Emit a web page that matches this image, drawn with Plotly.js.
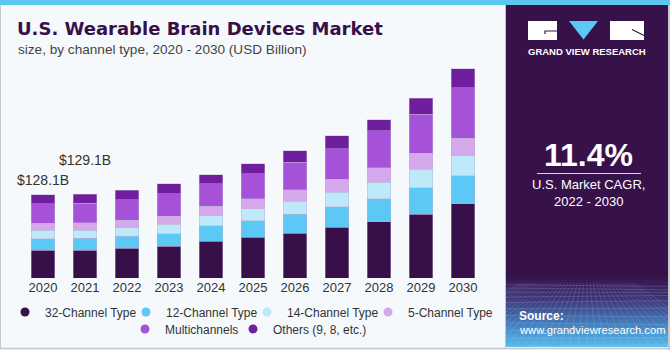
<!DOCTYPE html>
<html><head><meta charset="utf-8">
<script src="https://cdn.plot.ly/plotly-3.0.1.min.js"></script>
<style>html,body{margin:0;padding:0;background:#f5f9fc}#chart{width:670px;height:350px}</style>
</head><body><div id="chart"></div>
<script>
// ---- data (USD Billion) ----
const years = ['2020','2021','2022','2023','2024','2025','2026','2027','2028','2029','2030'];
const ch32   = [42.5, 42.8, 46.1, 48.6, 56.3, 62.4, 69.2, 77.8, 86.6, 98.4, 114.3];
const ch12   = [18.0, 18.1, 17.8, 19.5, 23.7, 25.7, 28.6, 31.8, 35.4, 40.4, 43.1];
const ch14   = [12.8, 12.9, 13.4, 14.3, 15.8, 18.5, 20.0, 22.0, 25.1, 28.1, 30.3];
const ch5    = [10.8, 10.9, 11.2, 12.3, 14.3, 15.4, 18.0, 20.0, 22.1, 25.2, 27.1];
const multi  = [30.3, 30.5, 31.8, 34.9, 34.5, 38.5, 42.0, 47.2, 57.4, 59.4, 78.0];
const others = [13.8, 13.9, 14.3, 15.4, 14.3, 15.4, 18.0, 20.0, 16.9, 25.2, 28.8];
const seriesNames = ['32-Channel Type','12-Channel Type','14-Channel Type','5-Channel Type','Multichannels','Others (9, 8, etc.)'];
const seriesValues = [ch32, ch12, ch14, ch5, multi, others];
const seriesColors = ['#37104a','#5bc8f5','#bde9fa','#d6a9ec','#a551d8','#6f1f9e'];
const labelYears = ['2020','2021'];
const totalLabels = ['$128.1B','$129.1B'];
const cagrValue = '11.4%';

// ---- geometry helpers ----
const W = 670, H = 350, ML = 22, MR = 186, MT = 64, MB = 72;
const PW = W - ML - MR, PH = H - MT - MB;
const px = x => (x - ML) / PW;
const py = y => (H - MB - y) / PH;
const FONT = 'Liberation Sans, Arial, sans-serif';

const traces = [];
seriesNames.forEach((n, i) => {
  traces.push({
    type: 'bar', name: n, x: years, y: seriesValues[i],
    marker: {color: seriesColors[i], line: {color: 'rgba(190,175,215,0.55)', width: 0.8}},
    showlegend: false, hoverinfo: 'x+y+name'
  });
});
// legend proxies (circle markers, no visible data)
const legendWidths = [76, 76, 76, 92, 63, 110];
seriesNames.forEach((n, i) => {
  traces.push({
    type: 'scatter', mode: 'markers', name: n, x: [years[0]], y: [null],
    marker: {color: seriesColors[i], size: 9},
    legend: i < 4 ? 'legend' : 'legend2', legendwidth: legendWidths[i], showlegend: true, hoverinfo: 'skip'
  });
});

const totals = years.map((_, k) => seriesValues.reduce((s, arr) => s + arr[k], 0));

// side panel background as svg image
function panelSvg() {
  const w = 162, h = 342;
  let s = `<svg xmlns='http://www.w3.org/2000/svg' width='${w}' height='${h}' viewBox='0 0 ${w} ${h}'>`;
  s += `<defs><linearGradient id='g' x1='0' y1='0' x2='0' y2='1'>` +
       `<stop offset='0' stop-color='#37114a'/><stop offset='0.79' stop-color='#37114a'/>` +
       `<stop offset='0.86' stop-color='#3d3577'/><stop offset='0.94' stop-color='#4486c4'/>` +
       `<stop offset='1' stop-color='#58bdea'/></linearGradient></defs>`;
  s += `<rect width='${w}' height='${h}' fill='url(#g)'/>`;
  const top = 278, bot = h;
  for (let i = 1; i <= 11; i++) {
    const t = Math.pow(i / 11, 1.5);
    const yy = top + (bot - top) * t;
    s += `<line x1='0' y1='${yy.toFixed(1)}' x2='${w}' y2='${(yy + 2*Math.sin(i)).toFixed(1)}' stroke='rgba(200,220,255,0.25)' stroke-width='0.7'/>`;
  }
  for (let j = -12; j <= 24; j++) {
    const xb = j * 9;
    const xt = w / 2 + (xb - w / 2) * 0.35;
    s += `<line x1='${xt.toFixed(1)}' y1='${top}' x2='${xb}' y2='${bot}' stroke='rgba(200,220,255,0.22)' stroke-width='0.7'/>`;
  }
  s += `</svg>`;
  return 'data:image/svg+xml;charset=utf-8,' + encodeURIComponent(s);
}

const shapes = [
  {type:'rect', xref:'paper', yref:'paper', x0:px(0), x1:px(670), y0:py(0), y1:py(5), fillcolor:'#5bc8f0', line:{width:0}, layer:'above'},
  {type:'line', xref:'paper', yref:'paper', x0:px(0.5), x1:px(0.5), y0:py(5), y1:py(349), line:{color:'#c8c8c8', width:1}},
  {type:'line', xref:'paper', yref:'paper', x0:px(0), x1:px(670), y0:py(348.5), y1:py(348.5), line:{color:'#c8c8c8', width:1.5}},
  {type:'line', xref:'paper', yref:'paper', x0:px(505.5), x1:px(505.5), y0:py(5), y1:py(349), line:{color:'#c0c0c8', width:1}},
  {type:'line', xref:'paper', yref:'paper', x0:px(669), x1:px(669), y0:py(5), y1:py(350), line:{color:'#c8c8c8', width:2}},
  {type:'line', xref:'paper', yref:'paper', x0:px(537), x1:px(641), y0:py(173.5), y1:py(173.5), line:{color:'#d8d0e0', width:1.2}, layer:'above'},
  {type:'rect', xref:'paper', yref:'paper', x0:px(528), x1:px(557), y0:py(21), y1:py(40), fillcolor:'#ffffff', line:{width:0}, layer:'above'},
  {type:'path', xref:'paper', yref:'paper', path:`M${px(545)},${py(34)} L${px(545)},${py(31)} L${px(557)},${py(31)}`, line:{color:'#37114a', width:1.2}, layer:'above'},
  {type:'path', xref:'paper', yref:'paper', path:`M${px(569)},${py(21)} L${px(598)},${py(21)} L${px(583.5)},${py(39.5)} Z`, fillcolor:'#5bc8f5', line:{width:0}, layer:'above'},
  {type:'rect', xref:'paper', yref:'paper', x0:px(610), x1:px(644), y0:py(21), y1:py(40), fillcolor:'#ffffff', line:{width:0}, layer:'above'},
  {type:'path', xref:'paper', yref:'paper', path:`M${px(632)},${py(29.5)} L${px(644)},${py(35.5)}`, line:{color:'#37114a', width:1.2}, layer:'above'}
];

const annotations = [
  {xref:'paper', yref:'paper', x:px(15.5), y:py(49), xanchor:'left', yanchor:'middle', showarrow:false,
   text:'size, by channel type, 2020 - 2030 (USD Billion)', font:{family:FONT, size:13.6, color:'#444'}},
  {xref:'paper', yref:'paper', x:px(587), y:py(51.5), xanchor:'center', yanchor:'middle', showarrow:false,
   text:'GRAND VIEW RESEARCH', font:{family:FONT, size:9.5, color:'#ffffff', weight:700}},
  {xref:'paper', yref:'paper', x:px(588), y:py(155), xanchor:'center', yanchor:'middle', showarrow:false,
   text:cagrValue, font:{family:FONT, size:32, color:'#ffffff', weight:700}},
  {xref:'paper', yref:'paper', x:px(588), y:py(184.5), xanchor:'center', yanchor:'middle', showarrow:false,
   text:'U.S. Market CAGR,', font:{family:FONT, size:13, color:'#ffffff'}},
  {xref:'paper', yref:'paper', x:px(588), y:py(201.5), xanchor:'center', yanchor:'middle', showarrow:false,
   text:'2022 - 2030', font:{family:FONT, size:13, color:'#ffffff'}},
  {xref:'paper', yref:'paper', x:px(517), y:py(316), xanchor:'left', yanchor:'middle', showarrow:false,
   text:'Source:', font:{family:FONT, size:12, color:'#ffffff', weight:700}},
  {xref:'paper', yref:'paper', x:px(517), y:py(330), xanchor:'left', yanchor:'middle', showarrow:false,
   text:'www.grandviewresearch.com', font:{family:FONT, size:11.2, color:'#ffffff'}}
];
const labelShift = [15, 34];
labelYears.forEach((yr, i) => {
  const k = years.indexOf(yr);
  annotations.push({x: k, y: totals[k], xref:'x', yref:'y', showarrow:false, yanchor:'middle', yshift: labelShift[i],
    text: totalLabels[i], font:{family:FONT, size:14, color:'#333'}});
});

const layout = {
  width: W, height: H,
  margin: {l: ML, r: MR, t: MT, b: MB, pad: 0, autoexpand: false},
  paper_bgcolor: '#f5f9fc', plot_bgcolor: '#f5f9fc',
  barmode: 'stack', bargap: 0.43,
  font: {family: FONT, color: '#333'},
  title: {text: 'U.S. Wearable Brain Devices Market', xref:'container', yref:'container', x: 17/W, xanchor:'left', y: 1 - 29/H, yanchor:'middle',
          font: {family: 'DejaVu Sans, Liberation Sans, sans-serif', size: 18, color: '#37104a', weight: 700}},
  xaxis: {type:'category', categoryorder:'array', categoryarray: years, range:[-0.5, years.length - 0.5], autorange:false,
          showgrid:false, zeroline:false, showline:false, ticks:'', tickfont:{family:FONT, size:13, color:'#333'}, fixedrange:true},
  yaxis: {visible:false, range:[0, PH * 128.1 / 83.3], autorange:false, fixedrange:true},
  showlegend: true,
  legend: {orientation:'h', xref:'paper', yref:'paper', x: px(505), xanchor:'right', y: py(312), yanchor:'middle',
           font:{family:FONT, size:12, color:'#333'}, bgcolor:'rgba(0,0,0,0)', itemclick:false, itemdoubleclick:false, traceorder:'normal'},
  legend2: {orientation:'h', xref:'paper', yref:'paper', x: px(125), xanchor:'left', y: py(329), yanchor:'middle',
           font:{family:FONT, size:12, color:'#333'}, bgcolor:'rgba(0,0,0,0)', itemclick:false, itemdoubleclick:false, traceorder:'normal'},
  shapes: shapes,
  annotations: annotations,
  images: [{source: panelSvg(), xref:'paper', yref:'paper', x: px(506), y: py(5), sizex: (668-506)/PW, sizey: (347-5)/PH,
            xanchor:'left', yanchor:'top', sizing:'stretch', layer:'below'}]
};

Plotly.newPlot('chart', traces, layout, {displayModeBar:false, staticPlot:true});
</script></body></html>
